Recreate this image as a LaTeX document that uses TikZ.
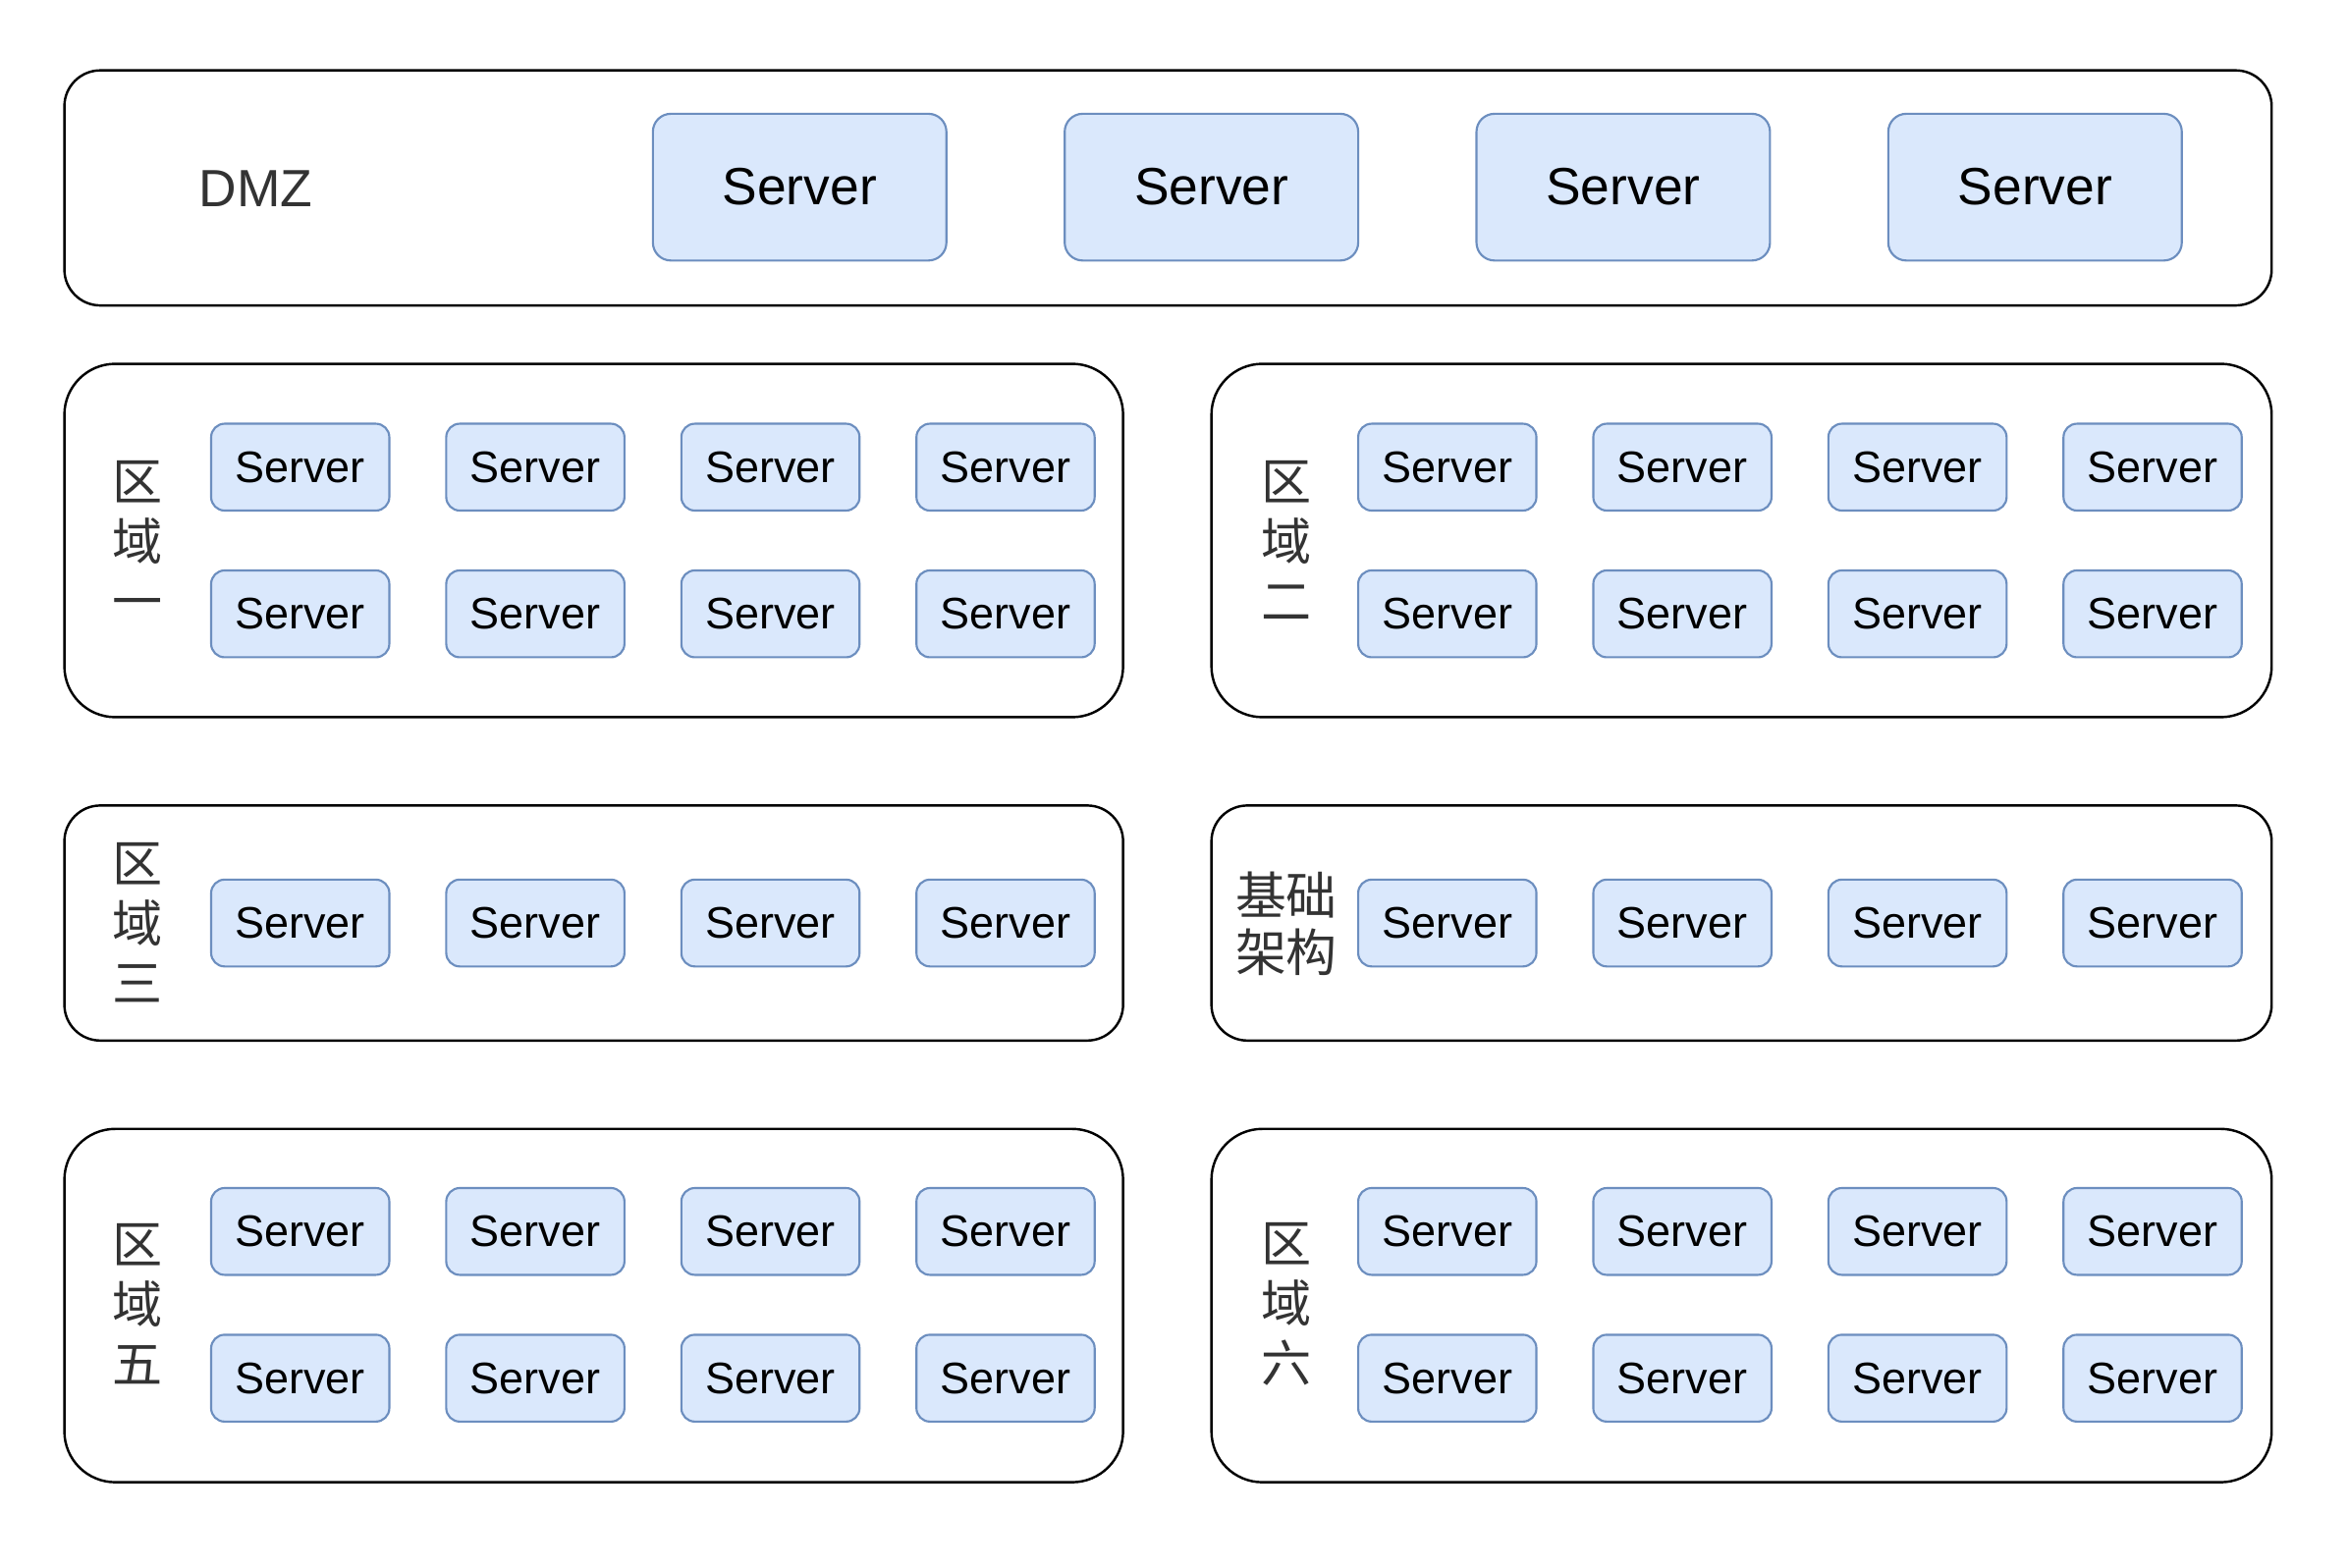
\documentclass[tikz,border=0pt]{standalone}
\usepackage{fontspec}
\setmainfont{Liberation Sans}
\newfontfamily\cjk{Noto Sans CJK SC}
\definecolor{srvfill}{HTML}{DAE8FC}
\definecolor{srvborder}{HTML}{6C8EBF}
\definecolor{lbl}{HTML}{333333}
\begin{document}
\begin{tikzpicture}[x=1pt,y=-1pt,
  zone/.style={draw=black,line width=1.6pt,fill=white},
  srv/.style={draw=srvborder,fill=srvfill,line width=1.4pt,rounded corners=9pt,
    minimum width=119pt,minimum height=58pt,inner sep=0pt,
    font=\fontsize{29.5}{34}\selectfont},
  bigsrv/.style={srv,minimum width=196pt,minimum height=98pt,rounded corners=12pt,
    font=\fontsize{35}{40}\selectfont},
  vlabel/.style={align=center,text=lbl,inner sep=0pt,font=\cjk\fontsize{33.5}{40}\selectfont},
]
\useasboundingbox (0,0) rectangle (1568,1047);
% DMZ
\draw[zone,rounded corners=24pt] (43,47) rectangle (1517,204);
\node[text=lbl,font=\fontsize{35}{40}\selectfont] (dmz) at (171,126) {DMZ};
\foreach \i/\x in {1/534,2/809,3/1084,4/1359}
  \node[bigsrv] (dmz-s\i) at (\x,125) {Server};
% row boxes
\draw[zone,rounded corners=34pt] (43,243) rectangle (750,479);
\draw[zone,rounded corners=34pt] (809,243) rectangle (1517,479);
\draw[zone,rounded corners=24pt] (43,538) rectangle (750,695);
\draw[zone,rounded corners=24pt] (809,538) rectangle (1517,695);
\draw[zone,rounded corners=34pt] (43,754) rectangle (750,990);
\draw[zone,rounded corners=34pt] (809,754) rectangle (1517,990);
% labels
\node[vlabel] (z1) at (92,361) {区\\域\\一};
\node[vlabel] (z2) at (859,361) {区\\域\\二};
\node[vlabel] (z3) at (92,616) {区\\域\\三};
\node[vlabel,font=\cjk\fontsize{34}{38}\selectfont] (z4) at (859,617) {基础\\架构};
\node[vlabel] (z5) at (92,871) {区\\域\\五};
\node[vlabel] (z6) at (859,871) {区\\域\\六};
% servers
\foreach \c/\x in {1/200.5,2/357.5,3/514.5,4/671.5}{
  \node[srv] (a1-\c) at (\x,312) {Server};
  \node[srv] (b1-\c) at (\x,410) {Server};
  \node[srv] (a3-\c) at (\x,616.5) {Server};
  \node[srv] (a5-\c) at (\x,822.5) {Server};
  \node[srv] (b5-\c) at (\x,920.5) {Server};
}
\foreach \c/\x in {1/966.5,2/1123.5,3/1280.5,4/1437.5}{
  \node[srv] (a2-\c) at (\x,312) {Server};
  \node[srv] (b2-\c) at (\x,410) {Server};
  \node[srv] (a4-\c) at (\x,616.5) {Server};
  \node[srv] (a6-\c) at (\x,822.5) {Server};
  \node[srv] (b6-\c) at (\x,920.5) {Server};
}
\end{tikzpicture}
\end{document}
